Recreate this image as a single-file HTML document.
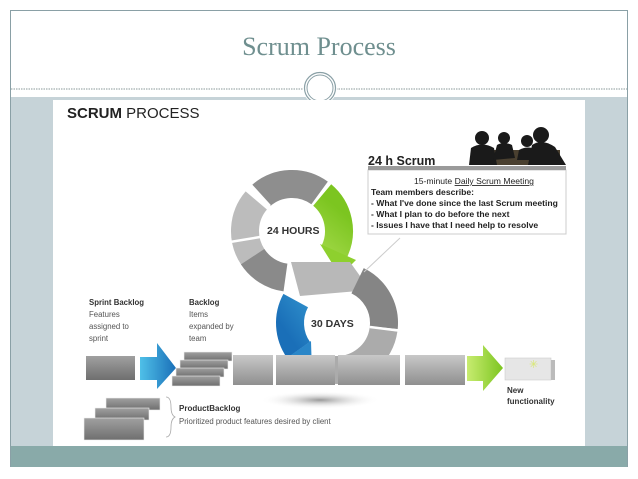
<!DOCTYPE html>
<html><head><meta charset="utf-8"><style>
html,body{margin:0;padding:0;background:#fff;}
svg{display:block;}
</style></head><body>
<svg width="638" height="479" viewBox="0 0 638 479" xmlns="http://www.w3.org/2000/svg" font-family="Liberation Sans, sans-serif">
<defs>
<linearGradient id="gb" x1="0" y1="0" x2="0" y2="1"><stop offset="0" stop-color="#c8c8c8"/><stop offset="1" stop-color="#8f8f8f"/></linearGradient>
<linearGradient id="gd" x1="0" y1="0" x2="0" y2="1"><stop offset="0" stop-color="#a0a0a0"/><stop offset="1" stop-color="#6f6f6f"/></linearGradient>
<linearGradient id="blue" x1="0" y1="0" x2="1" y2="0"><stop offset="0" stop-color="#4fc0e8"/><stop offset="1" stop-color="#1a6fb8"/></linearGradient>
<linearGradient id="green" x1="0" y1="0" x2="1" y2="0"><stop offset="0" stop-color="#c8ec70"/><stop offset="1" stop-color="#7cc520"/></linearGradient>
<radialGradient id="sh"><stop offset="0" stop-color="#999"/><stop offset="1" stop-color="#fff" stop-opacity="0"/></radialGradient>
</defs>
<rect x="0" y="0" width="638" height="479" fill="#fff"/>
<rect x="10.5" y="10.5" width="617" height="456" fill="#fff" stroke="#8aa0a6" stroke-width="1"/>
<rect x="11" y="97" width="616" height="349" fill="#c6d3d8"/>
<rect x="11" y="446" width="616" height="21" fill="#89aaa9"/>
<line x1="11" y1="89" x2="627" y2="89" stroke="#8a9a9a" stroke-width="1" stroke-dasharray="1.5,1"/>
<circle cx="320" cy="88" r="17" fill="#fff"/>
<circle cx="320" cy="88" r="15.5" fill="none" stroke="#8aa0a6" stroke-width="1.2"/>
<circle cx="320" cy="88" r="13" fill="none" stroke="#8aa0a6" stroke-width="1"/>
<text x="319" y="55" text-anchor="middle" font-family="Liberation Serif, serif" font-size="26" fill="#6f8f8f">Scrum Process</text>
<rect x="53" y="100" width="532" height="346" fill="#fff"/>
<text x="67" y="118" font-size="15" fill="#222"><tspan font-weight="bold">SCRUM</tspan> PROCESS</text>

<ellipse cx="320" cy="400" rx="60" ry="9" fill="url(#sh)"/>

<g fill="none" stroke-width="28">
<circle cx="292" cy="231" r="47" stroke="#8e8e8e" stroke-dasharray="63 400" transform="rotate(-131 292 231)"/>
<circle cx="292" cy="231" r="47" stroke="#bcbcbc" stroke-dasharray="61 400" transform="rotate(146 292 231)"/>
<circle cx="292" cy="231" r="47" stroke="#8a8a8a" stroke-dasharray="40 400" transform="rotate(98 292 231)"/>
<circle cx="292" cy="231" r="47" stroke="url(#green)" stroke-dasharray="62 400" transform="rotate(-50 292 231)"/>
</g>
<polygon points="320,244 356,260 340,276" fill="#8ed02e"/>
<g stroke="#fff" stroke-width="2.5">
<line x1="270" y1="206" x2="250" y2="184"/>
<line x1="260" y1="237" x2="230" y2="242"/>
</g>
<polygon points="291,262 350,262 370,290 300,296" fill="#b8b8b8"/>
<g fill="none" stroke-width="28">
<circle cx="337" cy="323" r="47" stroke="#858585" stroke-dasharray="57 400" transform="rotate(-64 337 323)"/>
<circle cx="337" cy="323" r="47" stroke="#ababab" stroke-dasharray="71 400" transform="rotate(8 337 323)"/>
<circle cx="337" cy="323" r="47" stroke="url(#blue)" stroke-dasharray="52 400" transform="rotate(145 337 323)"/>
</g>
<polygon points="311,341 281,362 312,374" fill="#2a86c8"/>
<g stroke="#fff" stroke-width="2.5">
<line x1="370" y1="327" x2="402" y2="331"/>
</g>

<rect x="233" y="355" width="40" height="30" fill="url(#gb)"/>
<rect x="276" y="355" width="59" height="30" fill="url(#gb)"/>
<rect x="338" y="355" width="62" height="30" fill="url(#gb)"/>
<rect x="405" y="355" width="60" height="30" fill="url(#gb)"/>
<rect x="86" y="356" width="49" height="24" fill="url(#gd)"/>
<polygon points="140,357 157,357 157,343 176,368 157,389 157,380 140,380" fill="url(#blue)"/>
<g fill="url(#gd)" stroke="#eee" stroke-width="0.6">
<rect x="184" y="352" width="48" height="9"/>
<rect x="180" y="360" width="48" height="9"/>
<rect x="176" y="368" width="48" height="9"/>
<rect x="172" y="376" width="48" height="10"/>
</g>
<polygon points="467,356 483,356 483,345 503,368 483,391 483,381 467,381" fill="url(#green)"/>
<rect x="505" y="358" width="46" height="22" fill="#e6e6e6" stroke="#ccc" stroke-width="0.6"/>
<rect x="551" y="360" width="4" height="20" fill="#bbb"/>
<text x="529" y="368" font-size="11" fill="#d8e870">✳</text>
<text x="507" y="393" font-size="8" font-weight="bold" fill="#333">New</text>
<text x="507" y="404" font-size="8" font-weight="bold" fill="#333">functionality</text>
<g fill="url(#gd)" stroke="#eee" stroke-width="0.6">
<rect x="106" y="398" width="54" height="12"/>
<rect x="95" y="408" width="54" height="12"/>
<rect x="84" y="418" width="60" height="22"/>
</g>
<path d="M166,397 q5,0 5,10 q0,8 4,10 q-4,2 -4,10 q0,10 -5,10" fill="none" stroke="#aaa" stroke-width="0.8"/>
<text x="179" y="411" font-size="8" font-weight="bold" fill="#333">ProductBacklog</text>
<text x="179" y="424" font-size="7.8" fill="#555">Prioritized product features desired by client</text>
<g font-size="7.8" fill="#555">
<text x="89" y="305" font-weight="bold" fill="#333">Sprint Backlog</text>
<text x="89" y="317">Features</text>
<text x="89" y="329">assigned to</text>
<text x="89" y="341">sprint</text>
<text x="189" y="305" font-weight="bold" fill="#333">Backlog</text>
<text x="189" y="317">Items</text>
<text x="189" y="329">expanded by</text>
<text x="189" y="341">team</text>
</g>
<text x="267" y="234" font-size="10.5" font-weight="bold" fill="#333">24 HOURS</text>
<text x="311" y="327" font-size="10.5" font-weight="bold" fill="#333">30 DAYS</text>

<line x1="400" y1="238" x2="364" y2="272" stroke="#ccc" stroke-width="1"/>
<rect x="368" y="170" width="198" height="64" fill="#fff" stroke="#ccc" stroke-width="1"/>
<rect x="368" y="166" width="198" height="4" fill="#9a9a9a"/>
<g fill="#1a1a1a">
<rect x="480" y="150" width="80" height="15" fill="#4a4030"/>
<circle cx="482" cy="138" r="7"/><path d="M469,165 L471,148 Q482,141 494,148 L497,165 Z"/>
<circle cx="504" cy="138" r="6"/><path d="M493,160 L497,145 Q504,141 512,145 L515,158 Z"/>
<circle cx="527" cy="141" r="6"/><path d="M517,160 L519,150 Q528,145 537,150 L539,160 Z"/>
<circle cx="541" cy="135" r="8"/><path d="M528,165 L532,145 Q542,138 555,147 L566,165 Z"/>
</g>
<text x="368" y="165" font-size="12.5" font-weight="bold" fill="#222">24 h Scrum</text>
<g font-size="8.6" font-weight="bold" fill="#222">
<text x="414" y="184" font-weight="normal">15-minute <tspan text-decoration="underline">Daily Scrum Meeting</tspan></text>
<text x="371" y="195">Team members describe:</text>
<text x="371" y="206">- What I've done since the last Scrum meeting</text>
<text x="371" y="217">- What I plan to do before the next</text>
<text x="371" y="228">- Issues I have that I need help to resolve</text>
</g>
</svg>
</body></html>
